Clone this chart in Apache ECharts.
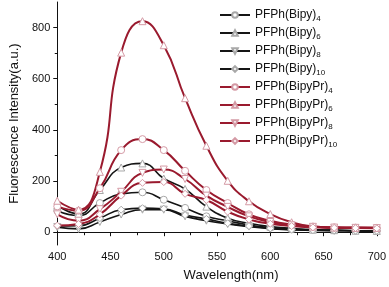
<!DOCTYPE html>
<html><head><meta charset="utf-8">
<script src="https://cdn.jsdelivr.net/npm/echarts@6/dist/echarts.min.js"></script>
<style>html,body{margin:0;padding:0;background:#fff}#c{width:389px;height:287px}</style>
</head><body><div id="c"></div>
<script>
const wavelengths = [400,420,440,460,480,500,520,540,560,580,600,620,640,660,680,700];
const names = ['PFPh(Bipy)','PFPh(Bipy)','PFPh(Bipy)','PFPh(Bipy)','PFPh(BipyPr)','PFPh(BipyPr)','PFPh(BipyPr)','PFPh(BipyPr)'];
const subs = ['4','6','8','10','4','6','8','10'];
const bipy4   = [84, 65, 114, 150, 156, 127, 95, 62, 45, 28, 18, 12, 9, 7, 6, 5];
const bipy6   = [104, 71, 165, 253, 269, 210, 169, 100, 55, 35, 22, 15, 10, 8, 6, 5];
const bipy8   = [20, 13, 40, 69, 88, 88, 62, 45, 32, 22, 14, 10, 7, 6, 5, 4];
const bipy10  = [24, 25, 55, 88, 94, 92, 67, 52, 35, 24, 15, 10, 8, 7, 6, 5];
const bipyPr4 = [101, 84, 172, 321, 364, 321, 240, 165, 114, 70, 45, 30, 22, 19, 18, 17];
const bipyPr6 = [123, 88, 236, 702, 825, 731, 524, 338, 201, 121, 71, 39, 22, 18, 17, 17];
const bipyPr8 = [70, 45, 90, 158, 232, 245, 208, 143, 99, 62, 40, 27, 21, 18, 17, 16];
const bipyPr10= [26, 32, 70, 143, 193, 196, 150, 126, 80, 50, 33, 24, 19, 17, 16, 15];
const xTicks = [400,450,500,550,600,650,700];
const yTicks = [0,200,400,600,800];
const yMinorTicks = [100,300,500,700];

const allData = [bipy4,bipy6,bipy8,bipy10,bipyPr4,bipyPr6,bipyPr8,bipyPr10];
const symbols = ['circle','triangle','triangle','diamond','circle','triangle','triangle','diamond'];
const rotates = [0,0,180,0,0,0,180,0];
const keys = names.map((n,i)=>n+'_'+subs[i]);

const series = allData.map((d,i)=>{
  const red = i>=4;
  return {
    name: keys[i], type:'line', smooth:0.5,
    data: d.map((v,j)=>[wavelengths[j], v]),
    symbol: symbols[i], symbolRotate: rotates[i], symbolSize: 7,
    lineStyle: {color: red ? '#9a1a2e' : '#151515', width: red ? 2 : 1.6},
    itemStyle: {color:'#fff', borderColor: red ? '#d49aa5' : '#a8a8a8', borderWidth:1},
    z: red ? 3 : 2
  };
});

const chart = echarts.init(document.getElementById('c'));
chart.setOption({
  animation:false,
  grid:{left:49, right:11, top:2, bottom:41},
  legend:{
    left:214, top:4, orient:'vertical', itemWidth:30, itemHeight:7, itemGap:4,
    data: keys,
    formatter: function(k){ const i = keys.indexOf(k); return '{a|'+names[i]+'}{s|'+subs[i]+'}'; },
    textStyle:{
      rich:{
        a:{fontSize:12, fontFamily:'Liberation Sans', color:'#111', lineHeight:16},
        s:{fontSize:8, fontFamily:'Liberation Sans', color:'#111', lineHeight:16, verticalAlign:'bottom', padding:[6,0,0,0]}
      }
    }
  },
  xAxis:{
    type:'value', min:400, max:700, interval:50,
    name:'Wavelength(nm)', nameLocation:'middle', nameGap:24,
    nameTextStyle:{fontSize:13, fontFamily:'Liberation Sans', color:'#111', padding:[0,0,0,28]},
    axisLine:{lineStyle:{color:'#111', width:1}},
    axisTick:{length:4, lineStyle:{color:'#111'}},
    minorTick:{show:true, splitNumber:2, length:3, lineStyle:{color:'#111'}},
    axisLabel:{fontSize:11, fontFamily:'Liberation Sans', color:'#111', margin:6},
    splitLine:{show:false}
  },
  yAxis:[{
    type:'value', min:-50, max:900,
    name:'Fluorescence Intensity(a.u.)', nameLocation:'middle', nameGap:34, nameRotate:90,
    nameTextStyle:{fontSize:13, fontFamily:'Liberation Sans', color:'#111'},
    axisLine:{show:true, lineStyle:{color:'#111', width:1}},
    axisTick:{show:true, length:4, customValues: yTicks, lineStyle:{color:'#111'}},
    axisLabel:{fontSize:11, fontFamily:'Liberation Sans', color:'#111', margin:7, customValues: yTicks},
    splitLine:{show:false}
  },{
    type:'value', min:-50, max:900, position:'left',
    axisLine:{show:false}, axisLabel:{show:false},
    axisTick:{show:true, length:2.5, customValues: yMinorTicks, lineStyle:{color:'#111'}},
    splitLine:{show:false}
  }],
  series: series
});
</script></body></html>
